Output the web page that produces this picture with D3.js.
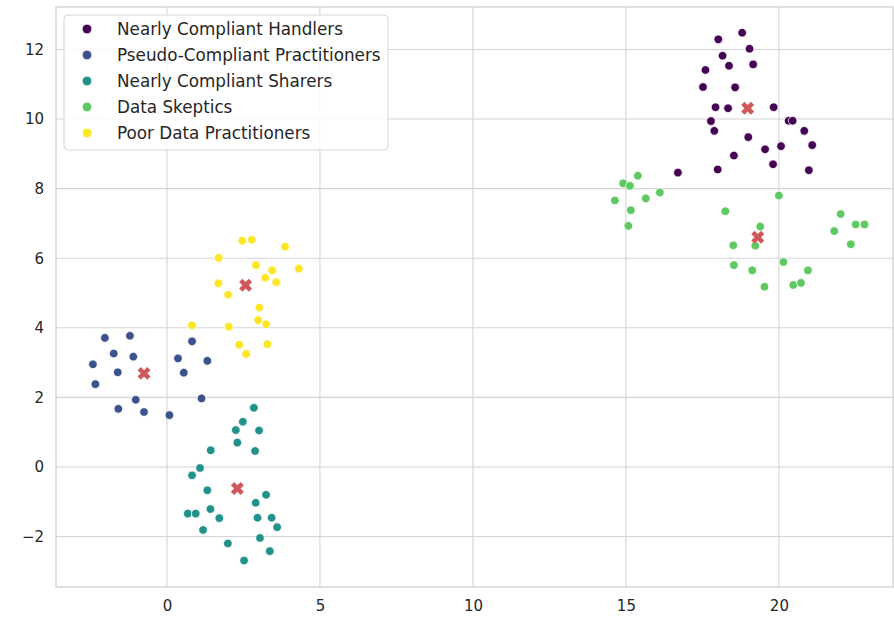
<!DOCTYPE html>
<html>
<head>
<meta charset="utf-8">
<script src="https://cdn.jsdelivr.net/npm/d3@7"></script>
<style>
  body { margin: 0; background: #fff; }
  svg { display: block; font-family: "DejaVu Sans", sans-serif; }
</style>
</head>
<body>
<svg id="chart" width="894" height="630"></svg>
<script>
const clusterNames = [
  "Nearly Compliant Handlers",
  "Pseudo-Compliant Practitioners",
  "Nearly Compliant Sharers",
  "Data Skeptics",
  "Poor Data Practitioners"
];
const clusterColors = ["#440154", "#3b528b", "#21918c", "#5ec962", "#fde725"];

// [x, y] per point
const handlers = [
  [18.02, 12.29], [18.80, 12.48], [19.04, 12.02], [18.16, 11.82], [18.37, 11.53],
  [19.16, 11.57], [17.60, 11.41], [17.52, 10.92], [18.57, 10.91], [17.93, 10.34],
  [18.34, 10.31], [19.83, 10.34], [17.78, 9.94], [20.32, 9.95], [20.45, 9.95],
  [17.89, 9.66], [20.83, 9.66], [19.00, 9.48], [19.55, 9.13], [20.07, 9.22],
  [21.09, 9.25], [18.53, 8.95], [19.81, 8.70], [16.70, 8.46], [18.00, 8.55],
  [20.98, 8.53]
];
const pseudo = [
  [-2.03, 3.71], [-1.21, 3.77], [-1.74, 3.26], [-1.10, 3.17], [-2.42, 2.95],
  [-1.61, 2.72], [-2.34, 2.38], [0.82, 3.61], [0.36, 3.12], [1.32, 3.05],
  [0.55, 2.71], [-1.02, 1.93], [1.13, 1.97], [-1.59, 1.67], [-0.75, 1.58],
  [0.08, 1.49]
];
const sharers = [
  [2.84, 1.70], [2.48, 1.30], [2.25, 1.06], [3.01, 1.05], [2.30, 0.70],
  [2.88, 0.46], [1.43, 0.48], [1.08, -0.03], [0.82, -0.24], [1.32, -0.67],
  [3.24, -0.80], [2.90, -1.03], [0.68, -1.34], [0.94, -1.34], [1.42, -1.21],
  [1.71, -1.47], [2.96, -1.46], [3.42, -1.46], [3.60, -1.73], [1.18, -1.81],
  [3.04, -2.04], [1.99, -2.20], [3.36, -2.42], [2.52, -2.69]
];
const skeptics = [
  [15.39, 8.37], [14.91, 8.15], [15.13, 8.08], [16.11, 7.89], [15.65, 7.72],
  [14.64, 7.66], [15.16, 7.38], [15.08, 6.93], [20.00, 7.80], [18.25, 7.35],
  [19.39, 6.91], [19.23, 6.36], [18.51, 6.37], [22.02, 7.27], [22.51, 6.97],
  [22.80, 6.97], [21.81, 6.78], [22.35, 6.40], [18.53, 5.80], [19.13, 5.65],
  [20.15, 5.89], [20.95, 5.65], [19.53, 5.18], [20.47, 5.23], [20.72, 5.29]
];
const poor = [
  [2.46, 6.50], [2.77, 6.53], [3.86, 6.33], [1.69, 6.01], [2.91, 5.80],
  [3.44, 5.65], [4.31, 5.70], [3.21, 5.44], [3.57, 5.31], [1.68, 5.28],
  [2.00, 4.95], [3.02, 4.58], [2.98, 4.22], [3.24, 4.10], [0.82, 4.07],
  [2.02, 4.03], [2.36, 3.51], [3.28, 3.53], [2.59, 3.25]
];
const centroids = [
  [18.98, 10.31], [-0.75, 2.69], [2.30, -0.62], [19.31, 6.60], [2.57, 5.22]
];
const xTicks = [0, 5, 10, 15, 20];
const yTicks = [-2, 0, 2, 4, 6, 8, 10, 12];

const groups = [handlers, pseudo, sharers, skeptics, poor];
const points = groups.flatMap((g, i) => g.map(d => ({x: d[0], y: d[1], c: i})));

// Sizing
const svgWidth = 894;
const svgHeight = 630;
const margin = {top: 7, right: 1, bottom: 43, left: 56};
const width = svgWidth - margin.left - margin.right;
const height = svgHeight - margin.top - margin.bottom;

const xScale = d3.scaleLinear()
  .domain([-3.627, 23.73])
  .range([margin.left, margin.left + width]);

const yScale = d3.scaleLinear()
  .domain([-3.45, 13.22])
  .range([margin.top + height, margin.top]);

const svg = d3.select("svg#chart");

// grid
svg.append("g")
  .selectAll("line.xgrid")
  .data(xTicks)
  .enter()
  .append("line")
  .attr("class", "xgrid")
  .attr("x1", d => xScale(d)).attr("x2", d => xScale(d))
  .attr("y1", margin.top).attr("y2", margin.top + height)
  .attr("stroke", "#d4d4d4").attr("stroke-width", 1.1);

svg.append("g")
  .selectAll("line.ygrid")
  .data(yTicks)
  .enter()
  .append("line")
  .attr("class", "ygrid")
  .attr("x1", margin.left).attr("x2", margin.left + width)
  .attr("y1", d => yScale(d)).attr("y2", d => yScale(d))
  .attr("stroke", "#d4d4d4").attr("stroke-width", 1.1);

// axes (labels only, no tick marks)
const xAxis = d3.axisBottom(xScale)
  .tickValues(xTicks)
  .tickSize(0)
  .tickPadding(13)
  .tickFormat(d3.format("d"));

const yAxis = d3.axisLeft(yScale)
  .tickValues(yTicks)
  .tickSize(0)
  .tickPadding(12)
  .tickFormat(d => d < 0 ? "\u2212" + Math.abs(d) : d);

const xAxisG = svg.append("g")
  .attr("transform", "translate(0," + (margin.top + height) + ")")
  .call(xAxis);
const yAxisG = svg.append("g")
  .attr("transform", "translate(" + margin.left + ",0)")
  .call(yAxis);

[xAxisG, yAxisG].forEach(g => {
  g.select(".domain").remove();
  g.selectAll("text")
    .style("font-family", "DejaVu Sans, sans-serif")
    .style("font-size", "15px")
    .attr("fill", "#262626");
});

// frame
svg.append("rect")
  .attr("x", margin.left).attr("y", margin.top)
  .attr("width", width).attr("height", height)
  .attr("fill", "none")
  .attr("stroke", "#cfcfcf")
  .attr("stroke-width", 1.3);

// points
svg.append("g")
  .selectAll("circle.point")
  .data(points)
  .enter()
  .append("circle")
  .attr("class", "point")
  .attr("cx", d => xScale(d.x))
  .attr("cy", d => yScale(d.y))
  .attr("r", 4.3)
  .attr("fill", d => clusterColors[d.c])
  .attr("stroke", "white")
  .attr("stroke-width", 0.75);

// centroids
const xMark = d3.symbol().type(d3.symbolCross).size(105);
svg.append("g")
  .selectAll("path.centroid")
  .data(centroids)
  .enter()
  .append("path")
  .attr("class", "centroid")
  .attr("d", xMark)
  .attr("transform", d => "translate(" + xScale(d[0]) + "," + yScale(d[1]) + ") rotate(45)")
  .attr("fill", "#d0585b");

// legend
const legend = svg.append("g").attr("transform", "translate(64,15)");
legend.append("rect")
  .attr("width", 324).attr("height", 135)
  .attr("rx", 4).attr("ry", 4)
  .attr("fill", "white").attr("fill-opacity", 0.85)
  .attr("stroke", "#d6d6d6").attr("stroke-width", 1);

const rows = legend.selectAll("g.row")
  .data(clusterNames)
  .enter()
  .append("g")
  .attr("class", "row")
  .attr("transform", (d, i) => "translate(0," + (14 + i * 26) + ")");

rows.append("circle")
  .attr("cx", 23).attr("cy", 0).attr("r", 4.8)
  .attr("fill", (d, i) => clusterColors[i])
  .attr("stroke", "white").attr("stroke-width", 0.75);

rows.append("text")
  .attr("x", 53).attr("y", 0)
  .attr("dominant-baseline", "central")
  .style("font-size", "16.8px")
  .attr("fill", "#262626")
  .text(d => d);
</script>
</body>
</html>
